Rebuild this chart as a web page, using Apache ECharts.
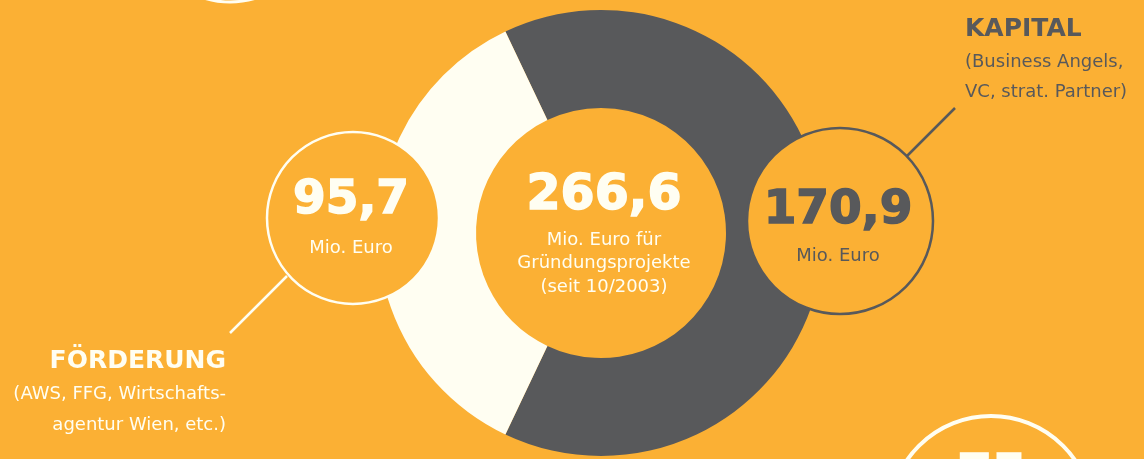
<!DOCTYPE html>
<html>
<head>
    <meta http-equiv="Content-Type" content="text/html; charset=utf-8" />
    <script src="https://cdn.jsdelivr.net/npm/echarts@6/dist/echarts.min.js"></script>
    <style>
        html, body { margin: 0; padding: 0; background: #fbb034; }
        #chart { width: 1144px; height: 459px; }
    </style>
</head>
<body>
<div id="chart"></div>

<script type="text/javascript">
    // Werte in Mio. Euro
    var categories = ['FÖRDERUNG', 'KAPITAL'];
    var values = [95.7, 170.9];
    var subLines = [
        ['(AWS, FFG, Wirtschafts-', 'agentur Wien, etc.)'],
        ['(Business Angels,', 'VC, strat. Partner)']
    ];
    var centerLines = ['Mio. Euro für', 'Gründungsprojekte', '(seit 10/2003)'];

    var ORANGE = '#fbb034';
    var GRAY = '#58595b';
    var CREAM = '#fffef2';
    var BOLD = 'bold {s}px "DejaVu Sans", sans-serif';
    var REG = '{s}px "DejaVu Sans", sans-serif';

    function fmt(v) { return v.toFixed(1).replace('.', ','); }
    function font(tpl, s) { return tpl.replace('{s}', s); }

    var total = values[0] + values[1];
    // Förderung-Segment symmetrisch links
    var startAngle = 180 - values[0] / total * 180;

    var chart = echarts.init(document.getElementById('chart'));

    // heavy = Kontur in Textfarbe, damit die Zahlen fetter wirken
    function txt(text, x, y, size, color, bold, align, heavy) {
        var st = {
            text: text, x: x, y: y, fill: color,
            font: font(bold ? BOLD : REG, size),
            textAlign: align || 'center', textVerticalAlign: 'middle'
        };
        if (heavy) { st.stroke = color; st.lineWidth = heavy; st.lineJoin = 'round'; }
        return { type: 'text', z: 20, silent: true, style: st };
    }

    var graphics = [
        // Deko-Kreise am Rand
        { type: 'circle', z: 5, shape: { cx: 230, cy: -86, r: 88 }, style: { fill: ORANGE, stroke: CREAM, lineWidth: 3 } },
        { type: 'circle', z: 5, shape: { cx: 991, cy: 518, r: 102 }, style: { fill: ORANGE, stroke: CREAM, lineWidth: 4 } },
        txt('75', 992, 476, 50, CREAM, true, 'center', 1.5),

        // Verbindungslinien
        { type: 'line', z: 10, shape: { x1: 287, y1: 276, x2: 230, y2: 333 }, style: { stroke: CREAM, lineWidth: 2.5 } },
        { type: 'line', z: 10, shape: { x1: 906, y1: 157, x2: 955, y2: 108 }, style: { stroke: GRAY, lineWidth: 2.5 } },

        // Wertekreise
        { type: 'circle', z: 10, shape: { cx: 353, cy: 218, r: 86 }, style: { fill: ORANGE, stroke: CREAM, lineWidth: 2.5 } },
        { type: 'circle', z: 10, shape: { cx: 840, cy: 221, r: 93 }, style: { fill: ORANGE, stroke: GRAY, lineWidth: 2.5 } },

        txt(fmt(values[0]), 351, 201, 47, CREAM, true, 'center', 1.5),
        txt('Mio. Euro', 351, 248, 18, CREAM, false),
        txt(fmt(values[1]), 838, 211, 47, GRAY, true, 'center', 1.5),
        txt('Mio. Euro', 838, 256, 18, GRAY, false),

        txt(fmt(total), 604, 196, 49, CREAM, true, 'center', 1.5),
        txt(centerLines[0], 604, 240, 18, CREAM, false),
        txt(centerLines[1], 604, 263, 18, CREAM, false),
        txt(centerLines[2], 604, 287, 18, CREAM, false),

        // Beschriftungen
        txt(categories[1], 965, 29, 25, GRAY, true, 'left'),
        txt(subLines[1][0], 965, 62, 18, GRAY, false, 'left'),
        txt(subLines[1][1], 965, 92, 18, GRAY, false, 'left'),

        txt(categories[0], 226, 361, 25, CREAM, true, 'right'),
        txt(subLines[0][0], 226, 394, 18, CREAM, false, 'right'),
        txt(subLines[0][1], 226, 425, 18, CREAM, false, 'right')
    ];

    var option = {
        backgroundColor: ORANGE,
        animation: false,
        series: [{
            type: 'pie',
            silent: true,
            center: [601, 233],
            radius: [125, 223],
            startAngle: startAngle,
            clockwise: true,
            label: { show: false },
            labelLine: { show: false },
            itemStyle: { borderWidth: 0 },
            data: [
                { name: categories[1], value: values[1], itemStyle: { color: GRAY } },
                { name: categories[0], value: values[0], itemStyle: { color: CREAM } }
            ]
        }],
        graphic: graphics
    };

    chart.setOption(option);
</script>
</body>
</html>
